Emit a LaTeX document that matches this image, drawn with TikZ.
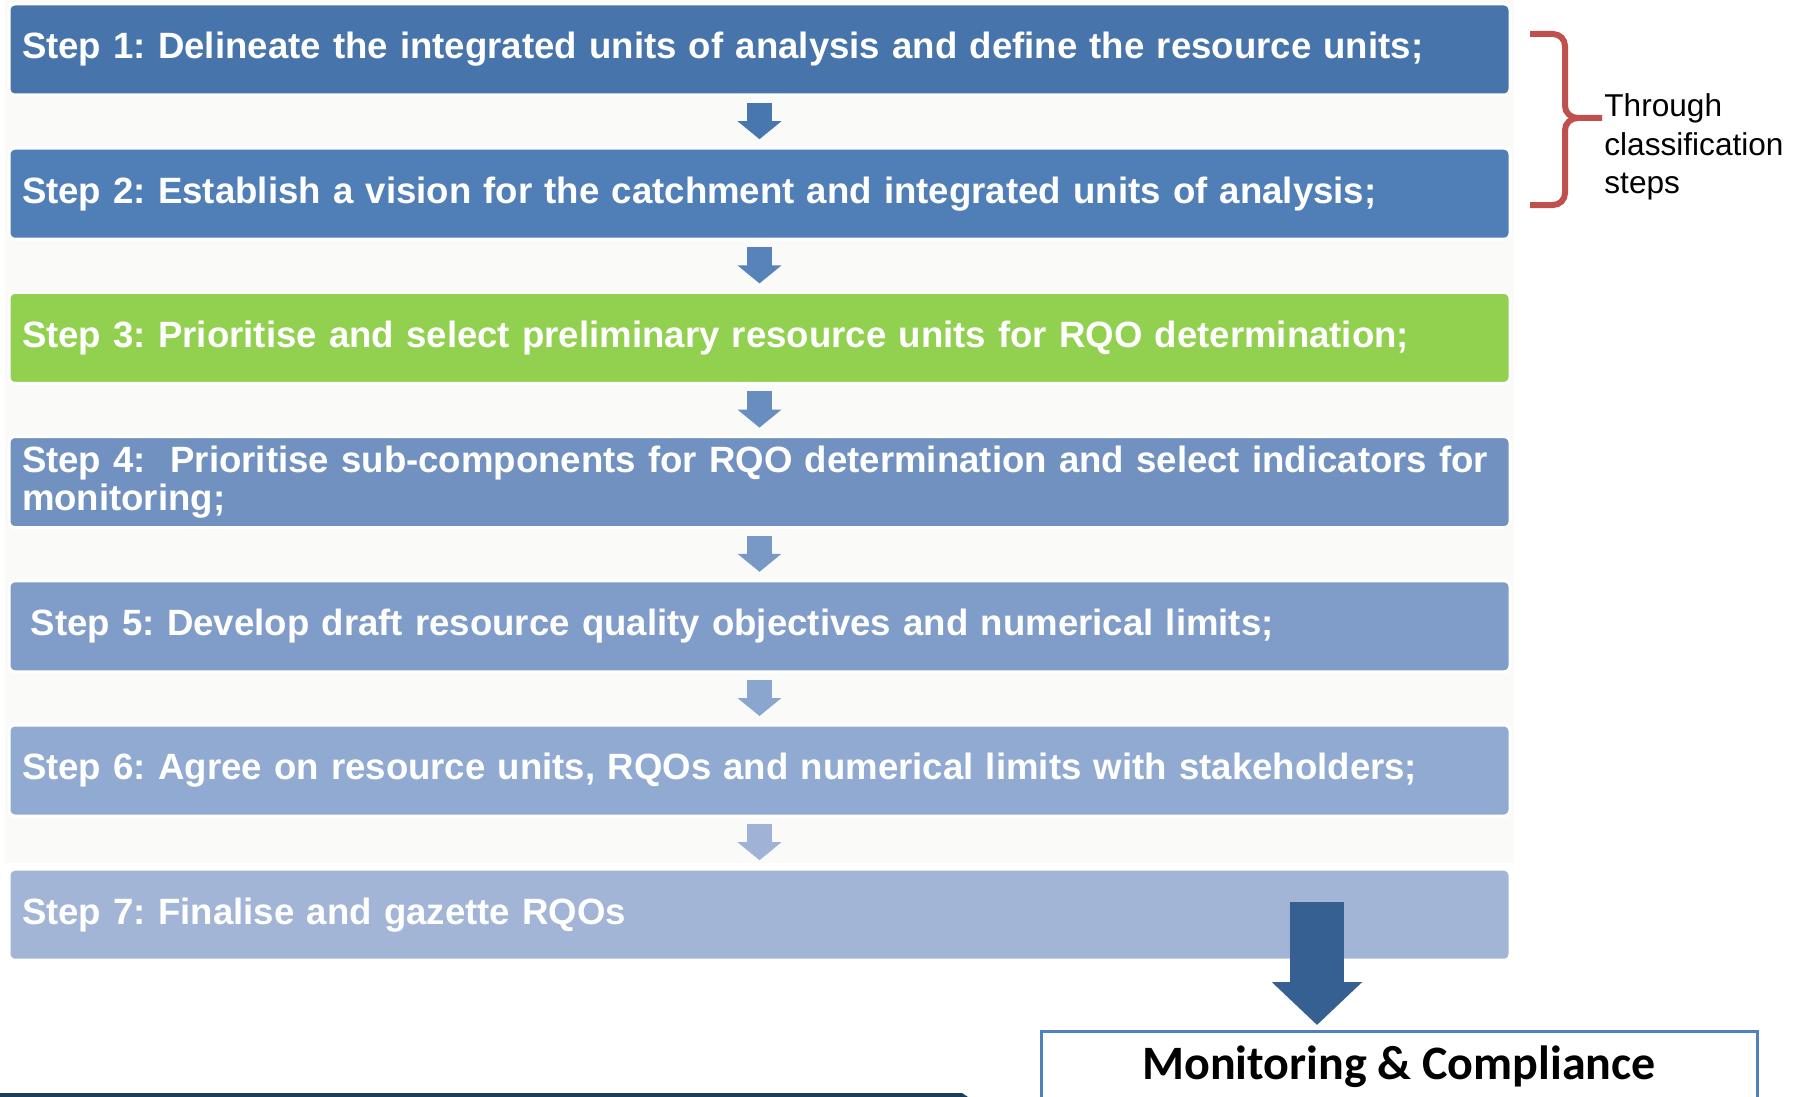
\documentclass[tikz,border=0pt]{standalone}
\usepackage{fontspec}
\setmainfont{Liberation Sans}
\newfontfamily\calibrifont{Carlito}
\usetikzlibrary{arrows.meta,positioning}
\frenchspacing
\definecolor{panelgrey}{RGB}{250,250,248}
\definecolor{stepone}{RGB}{71,116,170}
\definecolor{steptwo}{RGB}{80,127,183}
\definecolor{stepgreen}{RGB}{146,208,80}
\definecolor{stepfour}{RGB}{113,146,193}
\definecolor{stepfive}{RGB}{128,157,201}
\definecolor{stepsix}{RGB}{144,170,210}
\definecolor{stepseven}{RGB}{162,181,214}
\definecolor{arrowone}{RGB}{72,118,174}
\definecolor{arrowtwo}{RGB}{88,130,186}
\definecolor{arrowthree}{RGB}{104,141,191}
\definecolor{arrowfour}{RGB}{120,152,198}
\definecolor{arrowfive}{RGB}{138,165,206}
\definecolor{arrowsix}{RGB}{160,179,214}
\definecolor{bigarrowblue}{RGB}{54,96,146}
\definecolor{monblue}{RGB}{79,129,189}
\definecolor{bracered}{RGB}{192,80,77}
\definecolor{footteal}{RGB}{27,62,92}
\tikzset{
  stepbox/.style={rounded corners=3pt, draw=white, line width=1.5pt, outer sep=0pt, minimum width=750.5pt, minimum height=45.5pt, text width=737.5pt, inner xsep=6.5pt, inner ysep=0pt, align=left, text=white, font=\fontsize{18.3}{19}\selectfont\bfseries},
  steparrow/.style={line width=12.5pt, -{Triangle[length=9pt,width=21.5pt]}, shorten <=4pt, shorten >=4.5pt},
  bigarrow/.style={line width=27pt, bigarrowblue, -{Triangle[length=21.5pt,width=44pt]}, shorten >=2.5pt},
  monitorbox/.style={draw=monblue, line width=1.5pt, fill=white, anchor=north, minimum width=358pt, text height=24pt, text depth=40pt, inner ysep=0pt, font=\calibrifont\bfseries\fontsize{24}{28}\selectfont},
  bracepath/.style={draw=bracered, line width=3pt},
  classlabel/.style={anchor=west, align=left, inner sep=0pt, font=\fontsize{15.8}{19.3}\selectfont}
}
\begin{document}
\begin{tikzpicture}[x=0.5pt, y=-0.5pt]
\useasboundingbox (0,0) rectangle (1800,1097);
\clip (0,0) rectangle (1800,1097);
\fill[panelgrey] (5,0) rectangle (1514,863);
\node[stepbox, fill=stepone] (step1) at (759.5,49.5) {Step 1: Delineate the integrated units of analysis and define the resource units;};
\node[stepbox, fill=steptwo] (step2) at (759.5,193.7) {Step 2: Establish a vision for the catchment and integrated units of analysis;};
\node[stepbox, fill=stepgreen] (step3) at (759.5,337.9) {Step 3: Prioritise and select preliminary resource units for RQO determination;};
\node[stepbox, fill=stepfour] (step4) at (759.5,482.1) {\mbox{Step 4: \ Prioritise sub-components for RQO determination and select indicators for}\\monitoring;};
\node[stepbox, fill=stepfive] (step5) at (759.5,626.3) {\hspace*{4.5pt}Step 5: Develop draft resource quality objectives and numerical limits;};
\node[stepbox, fill=stepsix] (step6) at (759.5,770.5) {Step 6: Agree on resource units, RQOs and numerical limits with stakeholders;};
\node[stepbox, fill=stepseven] (step7) at (759.5,914.7) {Step 7: Finalise and gazette RQOs};
\draw[steparrow, arrowone] (step1) -- (step2);
\draw[steparrow, arrowtwo] (step2) -- (step3);
\draw[steparrow, arrowthree] (step3) -- (step4);
\draw[steparrow, arrowfour] (step4) -- (step5);
\draw[steparrow, arrowfive] (step5) -- (step6);
\draw[steparrow, arrowsix] (step6) -- (step7);
\node[monitorbox] (monitor) at (1399,1030) {Monitoring \& Compliance};
\coordinate (bigstart) at (1317,902);
\draw[bigarrow] (bigstart) -- (bigstart |- monitor.north);
\draw[bracepath] (1530,34) -- (1553,34) to[out=0,in=90] (1565,46) -- (1565,106) to[out=-90,in=180] (1578,118) -- (1602,118);
\draw[bracepath] (1530,205) -- (1553,205) to[out=0,in=-90] (1565,193) -- (1565,130) to[out=90,in=180] (1578,118);
\node[classlabel] (classnote) at (1604,147) {Through\\classification\\steps};
\fill[footteal] (0,1093) -- (962,1093) -- (968,1097) -- (0,1097) -- cycle;
\end{tikzpicture}
\end{document}
